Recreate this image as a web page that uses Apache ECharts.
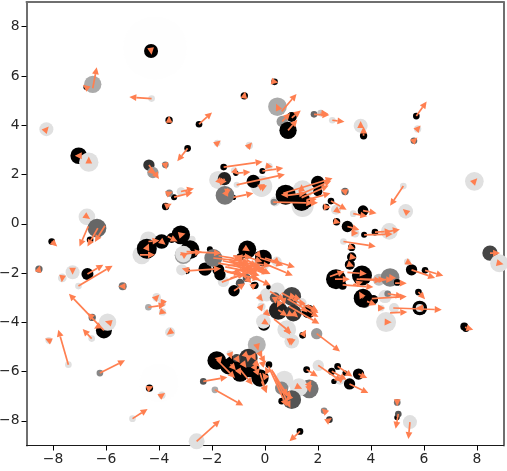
<!DOCTYPE html>
<html><head><meta charset="utf-8">
<style>html,body{margin:0;padding:0;background:#fff}#c{width:507px;height:471px}</style>
<script src="https://cdn.jsdelivr.net/npm/echarts@6/dist/echarts.min.js"></script>
</head><body><div id="c"></div>
<script>
const xTicks=[-8,-6,-4,-2,0,2,4,6,8];
const yTicks=[-8,-6,-4,-2,0,2,4,6,8];
// circles, back to front
const pointX=[
-4.15,-4.0,-1.77,-1.16,0.15,-0.13,-1.07,0.38,0.34,1.42,
1.42,-4.65,-4.4,-2.77,-1.57,-0.13,0.44,-0.31,0.73,0.63,
1.67,1.28,-1.32,0.47,0.06,-0.13,-0.13,0.06,0.82,1.01,
4.3,4.72,4.53,4.63,3.77,2.83,0.65,-3.08,
-4.30,-6.75,-0.78,-3.62,-2.49,-2.92,-7.03,-4.38,-1.56,-1.1,
-1.53,-0.10,-0.44,-1.19,0.78,1.38,1.99,1.99,1.6,2.3,
2.49,3.7,2.7,3.11,3.74,4.15,0.36,1.01,0.87,3.72,
5.71,-3.43,-3.75,-8.05,-6.6,-6.7,-6.08,-4.36,-4.46,-3.9,
-3.52,-3.18,-2.83,-2.96,-2.26,-2.08,-1.76,-1.7,-1.17,-0.67,
-0.94,-0.38,-0.25,-0.06,-1.82,-1.38,-1.2,-0.94,-0.19,-0.57,
0.15,1.57,2.74,2.52,3.53,3.19,3.02,2.6,0.63,0.75,
1.32,1.42,-0.04,-0.41,0.13,1.64,3.27,3.27,3.2,5.53,
6.04,2.68,2.93,3.66,4.99,3.7,4.09,5.79,5.84,7.52,
7.58,4.98,
-8.53,-6.52,-5.37,1.85,5.62,3.02,-0.94,-0.69,-2.33,-0.63,
-1.07,1.01,0.5,0.38,1.07,1.01,8.49,4.99,5.03,2.43,2.23,
-6.50,0.47,-4.23,-3.76,-1.51,-3.61,-3.17,-6.72,-6.34,
-4.28,-8.25,-1.8,-0.59,-6.65,2.1,2.54,3.61,5.76,7.9,
5.22,5.31,2.68,3.33,3.4,4.69,2.96,8.84,5.37,-3.08,
-3.14,-1.95,-7.26,-7.65,-7.04,-5.94,-6.54,-8.16,-7.42,-6.23,
-3.89,-5.0,-2.58,-3.58,-4.09,-4.4,-3.87,-3.87,1.38,-0.06,
1.95,2.01,-1.89,4.87,4.38,4.57,5.84,5.47];
const pointY=[
7.13,-6.46,1.78,2.16,2.33,1.52,1.58,0.9,0.88,1.36,
0.72,-1.26,-0.65,-0.65,-2.34,-1.6,-1.53,-4.91,-6.33,-6.67,
-6.7,-6.64,-5.27,-2.68,-2.88,-3.0,-3.36,-3.62,-4.3,-4.77,
-2.27,-2.18,-2.95,-2.84,-3.22,-6.33,4.15,-1.28,
7.01,5.54,5.19,4.2,4.04,3.06,2.76,2.38,2.30,2.05,
1.83,2.14,1.72,1.07,1.18,0.9,1.68,1.31,0.84,0.68,
0.92,0.53,0.08,-0.11,-0.45,-0.34,5.76,4.33,3.79,3.57,
4.37,1.08,0.7,-0.72,-0.65,-2.04,-4.33,-6.67,-1.01,-0.72,
-0.58,-0.45,-1.05,-1.91,-1.84,-1.03,-1.87,-2.07,-2.72,-1.05,
-1.35,-2.5,-1.26,-1.39,-5.55,-5.79,-5.68,-6.06,-6.26,-5.85,
-5.72,-5.92,-5.79,-5.99,-6.1,-6.5,-6.06,-6.4,-7.2,-6.94,
-8.43,-4.53,-4.1,-2.5,-2.57,-3.56,-0.96,-1.35,-1.66,-1.87,
-1.89,-2.25,-2.52,-2.1,-2.38,-3.02,-3.08,-2.77,-3.42,-4.17,
-4.26,-7.86,
-1.84,-3.8,-2.54,4.44,3.37,1.31,-2.41,-2.2,-6.4,-5.45,
-5.45,-2.95,-3.52,-3.0,-3.63,-7.14,-1.19,-7.25,-7.72,-7.95,-7.59,
5.66,4.75,2.08,2.39,1.15,1.24,1.31,0.28,-0.18,
5.08,3.84,3.27,3.18,2.5,4.49,4.2,3.98,3.85,1.72,
1.53,0.5,0.57,0.41,-0.38,-0.31,-0.72,-1.6,-1.55,-1.23,
-1.87,-1.39,-1.97,-2.2,-2.53,-3.99,-4.66,-4.73,-5.72,-6.06,
-6.96,-7.91,-8.83,-4.4,-2.99,-3.39,-3.58,-3.22,-3.22,-3.96,
-4.46,-5.75,-6.74,-3.42,-3.42,-3.99,-3.42,-8.05];
const pointSize=[
95,58,27,10,11,32,9,15,10,30,
33,28,25,12,17,25,15,27,27,20,
28,27,10,22,20,12,12,10,28,22,
18,28,20,10,15,15,17,26,
21,8,11,11,10,10,25,17,10,8,
20,9,20,8,30,28,20,14,14,10,
10,16,11,17,9,10,10,15,26,11,
10,9,11,10,10,18,24,11,30,22,
15,28,28,10,20,9,18,17,17,27,
11,11,10,25,28,24,24,26,26,28,
10,10,10,11,17,17,8,8,10,10,
10,10,18,10,7,20,11,14,15,17,
10,30,12,30,10,28,14,10,22,12,
10,8,
11,11,12,10,10,11,13,12,10,28,
12,28,28,16,25,28,23,10,10,10,10,
26,28,17,10,28,11,13,25,28,
10,21,10,11,29,10,10,21,11,28,
10,22,15,10,13,25,10,27,10,25,
17,27,21,13,10,26,10,10,10,10,
11,10,24,15,13,10,11,11,15,22,
17,17,10,15,10,30,12,21];
const pointShade=[
.995,.995,.88,.88,.88,.88,.88,.88,.53,.88,
.88,.88,.88,.88,.88,.88,.88,.7,.88,.53,
.45,.88,.88,.88,.88,.88,.88,.88,.88,.88,
.75,.5,.88,.5,.33,.88,.6,.6,
0,0,0,0,0,0,0,.2,0,0,
.13,0,0,0,0,0,0,0,0,0,
0,0,0,0,0,0,.05,0,0,0,
0,0,0,0,0,0,0,0,0,0,
0,0,0,0,0,0,0,0,0,0,
0,0,0,0,0,0,0,0,0,0,
0,0,0,0,0,0,0,0,0,0,
0,0,0,0,0,0,0,0,0,0,
0,0,0,0,0,0,0,0,0,0,
0,0,
.4,.4,.45,.4,.4,.4,.33,.33,.33,.2,
.27,.27,.13,.33,.2,.33,.27,.45,.33,.2,.53,
.67,.67,.6,.47,.47,.53,.88,.88,.4,
.88,.88,.88,.88,.88,.78,.88,.88,.88,.88,
.88,.88,.88,.88,.88,.88,.88,.88,.88,.88,
.88,.47,.88,.88,.88,.88,.88,.88,.88,.53,
.88,.88,.88,.88,.88,.67,.88,.88,.88,.88,
.6,.88,.67,.88,.88,.88,.88,.88];
// arrows
const tailX=[
-4.30,-6.50,-6.75,-4.28,-0.78,-3.62,-2.49,-8.25,-2.92,-1.8,
-0.59,-7.03,-6.65,-4.38,-4.23,-3.76,-1.56,-1.16,-1.1,-1.77,
-1.53,-0.10,0.15,-1.07,-1.51,-1.19,-1.41,-0.13,-0.05,
0.85,0.69,1.38,1.45,1.57,0.85,1.38,1.7,0.31,1.6,
0.63,0.47,0.65,1.01,0.87,1.85,2.1,2.54,3.61,3.72,
5.71,5.76,5.62,7.9,5.22,5.31,3.02,2.49,2.3,2.68,
3.7,3.33,2.7,3.11,3.4,3.74,4.15,4.69,0.36,-3.61,
-3.43,-3.17,-3.75,-6.72,-6.67,-6.31,-6.04,-8.05,-8.53,-7.26,
-7.65,-6.7,-7.04,-5.37,-6.52,-6.08,-5.94,-6.3,-6.54,-8.16,
-7.42,-6.23,-4.36,-3.89,-5.0,-2.58,-3.58,-4.09,-4.4,-3.87,
-3.87,-4.72,-4.4,-4.46,-3.9,-3.67,-3.18,-2.96,-3.2,-3.0,
-2.96,-2.96,-1.95,-1.76,-1.5,-1.45,-1.63,-1.17,-1.35,-1.2,
-1.1,-1.0,-0.85,-0.94,-0.67,-0.6,-0.44,-0.57,-0.19,0,
0.03,-0.3,-0.94,-0.25,0.44,-0.41,3.27,2.96,3.27,3.2,
8.49,8.84,5.37,5.53,6.04,2.45,2.64,3.11,3.46,3.58,
2.93,3.33,4.91,4.03,4.63,4.84,4.72,5.79,4.38,4.57,
3.7,3.85,4.3,4.72,5.84,1.95,1.42,0.94,0.34,
-0.06,-0.19,-0.13,0.06,0.63,0.85,0.9,0.19,0.38,0.5,
1.07,1.01,1.38,-0.31,1.01,0.82,-1.82,-0.94,-0.19,
0.13,0.25,-2.33,-1.89,-1.7,-1.32,-0.63,-1.07,-0.1,
-0.4,-0.3,0.0,-1.3,-1.0,1.57,2.01,2.74,2.52,3.53,
3.19,2.83,4.99,5.03,5.47,2.23,2.43,1.32,7.55,0.38,
0.3,1.28,1.67,1.67,-0.13,0.95,
-1.75,-1.6,-1.4,-1.3,-1.3,-1.0,-0.8,-0.7,-0.5,-0.7,-1.55,-1.2,
-0.75,-0.45,-0.2,-0.1,-0.8,0.1,-0.4,
0.7,1.2,0.55,0.9,1.4,1.6];
const tailY=[
7.01,5.50,5.54,5.08,5.19,4.2,4.04,3.84,3.06,3.27,
3.18,2.76,2.5,2.38,2.08,2.39,2.30,2.16,2.05,1.78,
1.83,2.14,2.33,1.58,1.15,1.07,1.45,1.52,1.6,
1.18,1.24,1.06,1.25,0.97,1.15,1.38,0.95,0.88,0.84,
4.56,4.75,4.15,4.3,3.79,4.44,4.49,4.2,3.98,3.57,
4.37,3.85,3.37,1.72,1.53,0.5,1.31,0.92,0.68,0.57,
0.53,0.41,0.08,-0.11,-0.38,-0.45,-0.34,-0.31,5.76,1.24,
1.08,1.31,0.7,0.28,-0.11,-0.18,-0.08,-0.72,-1.84,-1.97,
-2.2,-2.04,-2.53,-2.54,-3.8,-4.33,-3.99,-4.17,-4.66,-4.73,
-5.72,-6.06,-6.67,-6.96,-7.91,-8.83,-4.4,-2.99,-3.39,-3.58,
-3.22,-1.26,-0.72,-1.0,-0.72,-0.52,-0.45,-1.13,-1.25,-1.3,
-1.91,-1.87,-1.39,-1.6,-1.75,-1.95,-2.37,-2.72,-1.5,-1.55,
-1.85,-1.5,-1.7,-2.1,-1.05,-1.6,-2.18,-1.66,-1.39,-1.39,
-1.64,-1.85,-1.35,-1.26,-1.53,-2.5,-0.96,-0.72,-1.35,-1.66,
-1.19,-1.6,-1.55,-1.87,-1.89,-2.14,-2.25,-1.97,-2.25,-2.25,
-2.48,-2.48,-2.41,-3.04,-2.84,-3.42,-3.62,-2.77,-3.42,-3.99,
-3.02,-3.15,-2.27,-2.18,-3.42,-4.46,-4.53,-4.7,-3.87,
-3.96,-3.0,-3.36,-3.62,-2.81,-3.05,-3.35,-2.75,-3.0,-3.5,
-3.63,-2.95,-3.22,-4.91,-4.77,-4.3,-5.52,-5.92,-6.06,
-5.79,-5.92,-6.4,-6.74,-5.5,-5.27,-5.45,-5.45,-5.45,
-5.85,-6.0,-6.2,-5.7,-5.95,-5.92,-5.75,-5.79,-5.99,-6.1,
-6.5,-6.33,-7.25,-7.72,-8.05,-7.59,-7.95,-8.43,-4.2,-6.33,
-6.0,-6.64,-6.5,-6.7,-6.4,-7.0,
-1.3,-1.5,-1.7,-2.0,-2.2,-2.2,-1.3,-1.45,-1.5,-1.95,-1.9,-1.3,
-5.3,-5.35,-5.25,-5.7,-5.7,-6.0,-5.6,
-3.1,-3.0,-3.2,-3.65,-3.4,-3.3];
const tipX=[
-4.28,-6.35,-6.87,-5.12,-0.75,-3.62,-2.0,-8.16,-3.31,-1.67,
-0.49,-7.18,-6.65,-4.0,-4.15,-3.72,-0.09,-1.0,-0.55,-1.6,
-1.7,0.69,0.29,0.75,-1.38,-0.44,-1.45,0.0,-0.1,
0.6,2.55,2.4,2.5,2.47,1.55,1.38,1.95,1.82,2.0,
1.19,0.42,0.95,1.35,1.22,2.43,2.39,3.0,3.61,3.72,
6.1,5.87,5.75,8.01,4.72,5.2,2.85,3.08,2.48,2.86,
4.21,3.86,2.85,3.56,3.53,4.82,4.78,5.09,0.5,-3.48,
-2.73,-2.68,-3.52,-6.6,-7.0,-6.7,-6.42,-7.84,-8.49,-7.26,
-7.67,-6.1,-5.75,-5.53,-6.7,-7.4,-6.04,-6.45,-6.88,-8.3,
-7.8,-5.28,-4.21,-3.77,-4.43,-1.7,-3.71,-3.99,-3.75,-3.71,
-3.93,-4.15,-3.98,-4.38,-3.75,-3.3,-3.0,-1.66,-2.38,-3.2,
-1.66,-3.14,-0.6,-0.45,-0.3,-0.2,-0.19,-0.75,-0.1,-0.7,
-0.5,-0.4,-0.3,-0.4,-0.57,0.21,0.21,0.21,0.69,1.13,
1.05,0.15,-0.88,-0.15,0.55,-0.3,3.4,4.18,3.46,3.36,
8.87,9.0,5.56,6.42,6.73,3.0,3.2,3.84,4.4,4.84,
4.09,3.7,5.35,5.35,5.2,6.67,5.37,6.04,4.53,4.78,
3.55,4.2,4.55,4.95,5.7,2.83,1.55,0.94,1.0,
0.15,-0.08,-0.05,0.2,2.02,2.02,2.05,0.75,0.4,0.85,
1.25,0.9,1.3,-0.25,0.98,0.95,-1.13,-0.47,0.06,
0.82,0.96,-1.42,-0.82,-1.9,-1.25,-0.65,-0.95,0.0,
-0.3,-0.2,-0.1,-1.1,-0.9,1.99,2.89,3.3,3.08,3.86,
3.9,3.0,4.99,4.93,5.41,2.14,2.52,0.92,7.86,1.01,
0.85,1.4,1.75,1.7,0.06,0.8,
-0.9,-0.75,-0.55,-0.6,-0.3,-0.2,-0.1,0.05,-0.05,-0.2,-0.9,-0.5,
-0.6,-0.35,-0.1,0.05,-0.7,0.0,-0.2,
0.75,1.05,0.45,1.1,1.6,2.0];
const tipY=[
6.86,6.35,5.64,5.14,5.37,4.38,4.52,3.95,2.54,3.38,
3.3,2.76,2.73,1.82,2.0,2.2,2.52,1.99,2.1,1.6,
1.55,2.26,2.3,2.0,1.41,1.24,1.13,1.6,1.3,
1.18,1.85,1.55,1.75,1.24,1.25,1.6,1.0,0.84,0.85,
5.27,4.87,4.5,4.6,4.22,4.41,4.46,4.14,4.17,3.95,
4.96,3.99,3.5,1.85,0.73,0.6,1.38,0.57,0.68,0.43,
0.43,0.3,0.03,-0.24,-0.38,-0.42,-0.31,-0.23,5.73,1.3,
1.27,1.43,0.81,0.19,-0.92,-0.92,-0.74,-0.92,-1.69,-2.07,
-2.37,-1.66,-1.7,-2.54,-3.62,-2.84,-3.96,-4.26,-4.27,-4.66,
-4.3,-5.54,-6.6,-6.87,-7.52,-7.98,-4.5,-2.88,-3.29,-3.63,
-3.36,-1.26,-0.68,-0.8,-0.85,-0.72,-0.4,-1.2,-1.14,-1.15,
-1.82,-1.82,-1.55,-1.85,-2.0,-2.25,-1.8,-2.41,-1.8,-2.0,
-2.4,-1.95,-2.3,-1.6,-1.12,-1.7,-2.5,-2.04,-1.69,-1.77,
-2.1,-2.02,-1.55,-1.4,-1.65,-2.42,-1.01,-0.92,-1.39,-1.73,
-1.19,-1.64,-1.66,-2.2,-2.11,-1.93,-2.25,-2.03,-2.3,-2.27,
-2.57,-2.35,-2.41,-2.95,-2.95,-3.49,-3.58,-3.06,-3.42,-4.0,
-2.75,-3.3,-2.27,-2.2,-3.42,-5.18,-4.3,-4.94,-4.44,
-4.1,-3.15,-3.25,-3.75,-3.62,-3.78,-4.06,-3.1,-3.25,-3.75,
-3.8,-3.1,-3.05,-5.15,-4.95,-4.5,-6.26,-6.53,-6.87,
-7.41,-7.48,-6.23,-7.38,-5.45,-5.5,-5.62,-5.65,-5.65,
-5.65,-5.85,-6.05,-5.95,-6.15,-6.2,-6.4,-6.2,-6.33,-6.26,
-6.87,-6.2,-7.41,-8.32,-8.74,-7.5,-7.88,-8.83,-4.3,-7.07,
-7.0,-6.7,-6.35,-6.85,-6.87,-7.2,
-1.45,-1.7,-1.6,-1.75,-1.9,-1.65,-1.55,-1.95,-2.05,-2.1,-2.05,-1.35,
-5.45,-5.55,-5.45,-5.55,-5.85,-5.8,-5.8,
-3.3,-3.15,-3.4,-3.75,-3.6,-3.55];

const chart=echarts.init(document.getElementById('c'),null,{renderer:'canvas'});
const minus=v=>String(v).replace('-','\u2212');
const fontFam='"DejaVu Sans"';
const grey=s=>{const g=Math.round(s*255);return 'rgb('+g+','+g+','+g+')';};
const axis=(ticks,lineColor,lineWidth)=>({type:'value',min:-9,max:9,
  splitLine:{show:false},
  axisLine:{show:true,onZero:false,lineStyle:{color:lineColor,width:lineWidth}},
  axisTick:{show:true,length:5,customValues:ticks,lineStyle:{color:'#000',width:1}},
  axisLabel:{show:true,customValues:ticks,formatter:minus,color:'#262626',fontFamily:fontFam,fontSize:13.9,margin:7}
});
const frame=(position)=>({type:'value',min:-9,max:9,position,
  splitLine:{show:false},axisTick:{show:false},axisLabel:{show:false},
  axisLine:{show:true,onZero:false,lineStyle:{color:'#6f6f6f',width:2}}
});
chart.setOption({
  animation:false,
  backgroundColor:'#fff',
  grid:{left:26.5,top:2,width:477,height:443.5,outerBoundsMode:'none'},
  xAxis:[axis(xTicks,'#1a1a1a',1),frame('top')],
  yAxis:[axis(yTicks,'#6f6f6f',2),frame('right')],
  series:[
    {type:'scatter',clip:true,z:2,
     data:pointX.map((x,i)=>({value:[x,pointY[i]],symbolSize:pointSize[i]*2/3,itemStyle:{color:grey(pointShade[i]),opacity:1}}))},
    {type:'custom',clip:true,z:3,
     encode:{x:[0,2],y:[1,3]},
     data:tailX.map((x,i)=>[x,tailY[i],tipX[i],tipY[i]]),
     renderItem:(p,api)=>{
       const a=api.coord([api.value(0),api.value(1)]);
       const b=api.coord([api.value(2),api.value(3)]);
       let dx=b[0]-a[0],dy=b[1]-a[1];
       const L=Math.hypot(dx,dy)||1; dx/=L;dy/=L;
       const h=7,w=3.4;
       const bx=b[0]-dx*h,by=b[1]-dy*h;
       const children=[{type:'polygon',shape:{points:[[b[0],b[1]],[bx-dy*w,by+dx*w],[bx+dy*w,by-dx*w]]},style:{fill:'#ff7f50'}}];
       if(L>h) children.unshift({type:'line',shape:{x1:a[0],y1:a[1],x2:bx,y2:by},style:{stroke:'#ff7f50',lineWidth:1.7}});
       return {type:'group',children};
     }}
  ]
});
</script></body></html>
